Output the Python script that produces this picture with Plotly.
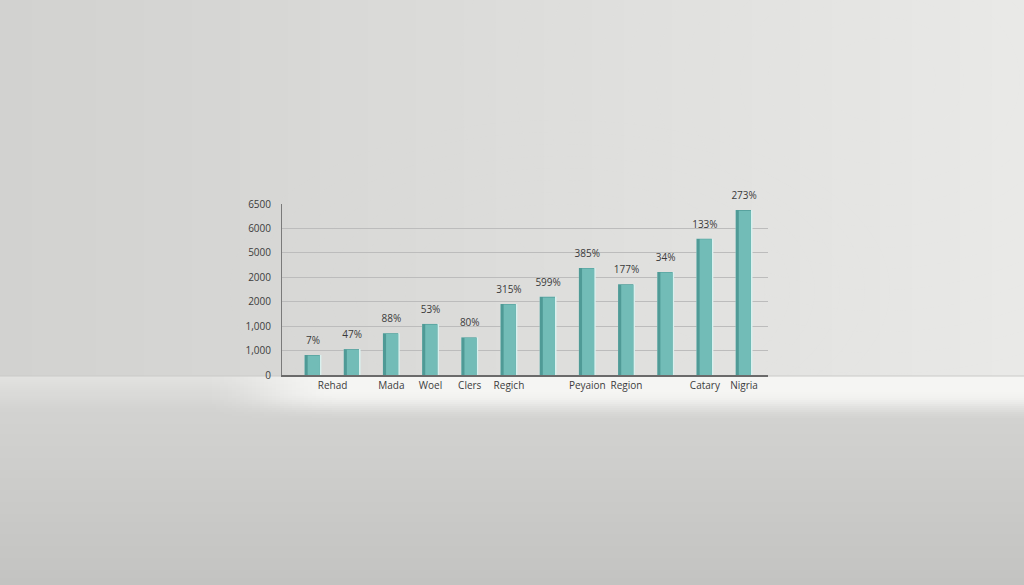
import plotly.graph_objects as go

# ---- data ----
bar_labels = ["7%", "47%", "88%", "53%", "80%", "315%", "599%", "385%", "177%", "34%", "133%", "273%"]
bar_values = [820, 1060, 1710, 2090, 1540, 2910, 3200, 4380, 3710, 4220, 5580, 6750]
x_tick_labels = ["Rehad", "Mada", "Woel", "Clers", "Regich", "Peyaion", "Region", "Catary", "Nigria"]
x_tick_slots = [0.5, 2, 3, 4, 5, 7, 8, 10, 11]
y_tick_values = [0, 1000, 2000, 3000, 4000, 5000, 6000, 7000]
y_tick_labels = ["0", "1,000", "1,000", "2000", "2000", "5000", "6000", "6500"]

idx = list(range(len(bar_values)))

W, H = 1024, 585
L, R, T, B = 282, 768, 204, 375
pw, ph = R - L, B - T
FLOOR = 376


def px(x):
    return (x - L) / pw


def py(y):
    return (B - y) / ph


def hex2rgb(c):
    return [int(c[i:i + 2], 16) for i in (1, 3, 5)]


def mix(c1, c2, t):
    t = max(0.0, min(1.0, t))
    a, b = hex2rgb(c1), hex2rgb(c2)
    return "#" + "".join(f"{round(a[k] + (b[k] - a[k]) * t):02x}" for k in range(3))


shapes = []
# wall: left-to-right gradient
n = 64
for i in range(n):
    t = i / (n - 1)
    col = mix("#d2d2d0", "#e9e9e7", t ** 1.1)
    shapes.append(dict(type="rect", xref="paper", yref="paper", layer="below",
                       x0=px(W * i / n), x1=px(W * (i + 1) / n + 1), y0=py(FLOOR), y1=py(0),
                       fillcolor=col, line_width=0))
# soft top-right highlight (many faint layers)
for k in range(14):
    r = 420 - k * 28
    shapes.append(dict(type="circle", xref="paper", yref="paper", layer="below",
                       x0=px(880 - r), x1=px(880 + r), y0=py(80 + r * 0.75), y1=py(80 - r * 0.75),
                       fillcolor="#f4f4f2", opacity=0.05, line_width=0))
# soft glow around the chart
for k in range(8):
    rx = 330 - k * 25
    ry = 170 - k * 12
    shapes.append(dict(type="circle", xref="paper", yref="paper", layer="below",
                       x0=px(560 - rx), x1=px(560 + rx), y0=py(290 + ry), y1=py(290 - ry),
                       fillcolor="#ececea", opacity=0.04, line_width=0))


def floor_base(y):
    t = (y - FLOOR) / (H - FLOOR)
    if t < 0.15:
        return mix("#e2e2e0", "#d4d4d2", t / 0.15)
    return mix("#d3d3d1", "#c3c3c1", (t - 0.15) / 0.85)


RAMP0, RAMP1 = 200, 340


def bright_x(x):
    if x < RAMP0:
        return 0.0
    t = min(1.0, (x - RAMP0) / (RAMP1 - RAMP0))
    return t * t * (3 - 2 * t)


def bright_y(y):
    d = y - FLOOR
    if d < 15:
        return 0.92
    if d < 45:
        t = 1 - (d - 15) / 30.0
        return 0.92 * t * t * (3 - 2 * t)
    return 0.0


# column edges: one wide block on the left, fine steps in the ramp, one wide block on the right
col_edges = [0, RAMP0] + [RAMP0 + 4 * k for k in range(1, (RAMP1 - RAMP0) // 4)] + [RAMP1, W]

row_h = 2
y = FLOOR
while y < H:
    y_next = min(H, y + (row_h if y < FLOOR + 50 else 4))
    yc = (y + y_next) / 2
    base = floor_base(yc)
    by = bright_y(yc)
    if by <= 0:
        shapes.append(dict(type="rect", xref="paper", yref="paper", layer="below",
                           x0=px(0), x1=px(W), y0=py(y_next + 1), y1=py(y),
                           fillcolor=base, line_width=0))
    else:
        for xa, xb in zip(col_edges[:-1], col_edges[1:]):
            amt = by * bright_x((xa + xb) / 2)
            shapes.append(dict(type="rect", xref="paper", yref="paper", layer="below",
                               x0=px(xa), x1=px(xb + 1), y0=py(y_next + 1), y1=py(y),
                               fillcolor=mix(base, "#f7f7f5", amt), line_width=0))
    y = y_next

# thin edge where wall meets floor
shapes.append(dict(type="line", xref="paper", yref="paper", layer="below",
                   x0=px(0), x1=px(W), y0=py(FLOOR), y1=py(FLOOR),
                   line=dict(color="#cacac8", width=1)))

fig = go.Figure()
bw = 0.43
fig.add_trace(go.Bar(x=idx, y=bar_values, width=bw, offset=-bw / 2,
                     marker=dict(color="#d9f0ee", line_width=0),
                     hoverinfo="skip", showlegend=False))
fig.add_trace(go.Bar(x=idx, y=bar_values, width=bw - 0.04, offset=-bw / 2,
                     marker=dict(color="#4f9a96", line_width=0),
                     hoverinfo="skip", showlegend=False))
fig.add_trace(go.Bar(x=idx, y=[v - 25 for v in bar_values], width=bw - 0.12, offset=-bw / 2 + 0.08,
                     marker=dict(color="#72bcb7", line_width=0),
                     showlegend=False))
fig.add_trace(go.Scatter(x=idx, y=bar_values, mode="markers+text", text=bar_labels,
                         textposition="top center",
                         marker=dict(size=12, opacity=0),
                         textfont=dict(family="Open Sans, sans-serif", size=10, color="#3a3a3a"),
                         cliponaxis=False, hoverinfo="skip", showlegend=False))

fig.update_layout(
    width=W, height=H,
    margin=dict(l=L, r=W - R, t=T, b=H - B, pad=0),
    paper_bgcolor="#dcdcda",
    plot_bgcolor="rgba(0,0,0,0)",
    barmode="overlay",
    shapes=shapes,
    font=dict(family="Open Sans, sans-serif", size=10, color="#3c3c3c"),
    xaxis=dict(range=[-0.79, 11.61], tickmode="array", tickvals=x_tick_slots, ticktext=x_tick_labels,
               showgrid=False, zeroline=False, showline=True, linecolor="#6a6a6a", linewidth=1.5,
               ticks="", tickfont=dict(size=10, color="#3c3c3c"), fixedrange=True),
    yaxis=dict(range=[0, 7000], tickmode="array", tickvals=y_tick_values, ticktext=y_tick_labels,
               showgrid=True, gridcolor="#bcbcbc", gridwidth=1, zeroline=False,
               showline=True, linecolor="#7a7a7a", linewidth=1,
               ticks="", ticklabelstandoff=8, tickfont=dict(size=10, color="#3c3c3c"), fixedrange=True),
)

fig.write_html("out.html", config={"displayModeBar": False},
               post_script="document.body.style.margin='0';document.body.style.overflow='hidden';")
